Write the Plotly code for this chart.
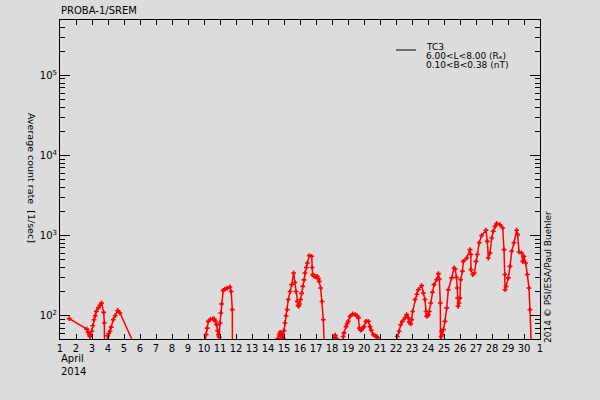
import plotly.graph_objects as go

# ---- data (day of April 2014, average count rate [1/sec]) ----
days = [1.58, 2.67, 2.75, 2.83, 2.87, 2.92, 2.98, 3.05, 3.125, 3.2, 3.27, 3.4, 3.5, 3.6, 3.73, 3.77, 3.79,
        3.95, 3.98, 4.05, 4.125, 4.2, 4.33, 4.45, 4.6, 4.75, 5.65,
        9.95, 10.05, 10.125, 10.2, 10.27, 10.4, 10.55, 10.64, 10.72, 10.79, 10.85, 10.9, 10.95,
        11.0, 11.05, 11.1, 11.2, 11.31, 11.45, 11.625, 11.7, 11.77, 11.78,
        14.55, 14.62, 14.7, 14.75, 14.8, 14.85, 14.9, 14.95, 15.0, 15.06, 15.13, 15.2, 15.27, 15.38, 15.48,
        15.6, 15.68, 15.75, 15.83, 15.88, 15.92, 15.97, 16.04, 16.1, 16.17, 16.25, 16.31, 16.4, 16.46,
        16.58, 16.73, 16.76, 16.79, 16.85, 16.94, 17.0, 17.08, 17.15, 17.2, 17.29, 17.38, 17.46, 17.52,
        18.05, 18.15, 18.2, 18.28, 18.35, 18.6, 18.7, 18.75, 18.875, 18.95, 19.02, 19.125, 19.29, 19.45,
        19.58, 19.65, 19.71, 19.78, 19.85, 19.92, 20.0, 20.125, 20.27, 20.375, 20.45, 20.58, 20.7, 20.79,
        20.85, 20.95,
        22.0, 22.08, 22.2, 22.29, 22.4, 22.56, 22.67, 22.77, 22.83, 22.92, 22.98, 23.04, 23.19, 23.3, 23.4,
        23.6, 23.71, 23.81, 23.875, 23.92, 23.97, 24.02, 24.08, 24.17, 24.27, 24.375, 24.54, 24.65, 24.71,
        24.77, 24.79, 24.83, 24.85, 24.9, 24.96, 25.06, 25.17, 25.27, 25.48, 25.625, 25.7, 25.78, 25.83,
        25.85, 25.88, 25.94, 26.0, 26.04, 26.15, 26.21, 26.42, 26.625, 26.67, 26.69, 26.79, 26.9, 27.0,
        27.08, 27.2, 27.35, 27.625, 27.71, 27.77, 27.875, 27.98, 28.08, 28.19, 28.29, 28.5, 28.67, 28.75,
        28.8, 28.82, 28.875, 29.02, 29.125, 29.23, 29.375, 29.54, 29.6, 29.69, 29.85, 29.92, 30.0, 30.1,
        30.21, 30.31, 30.375, 30.48]
rates = [92, 68, 62, 58, 55, 57, 64, 75, 89, 100, 113, 125, 135, 144, 110, 81, 30,
         45, 56, 60, 64, 72, 89, 100, 116, 108, 43,
         30, 50, 58, 70, 85, 90, 91, 91, 85, 77, 65, 58, 54,
         81, 108, 140, 207, 215, 220, 228, 200, 119, 20,
         20, 52, 58, 62, 55, 60, 56, 52, 65, 81, 100, 119, 159, 200, 244,
         341, 260, 200, 151, 135, 131, 140, 159, 190, 232, 280, 341, 400, 455,
         562, 551, 400, 326, 315, 310, 305, 310, 290, 268, 222, 150, 89, 40,
         40, 54, 57, 52, 35, 40, 55, 61, 73, 80, 85, 98, 105, 103,
         100, 94, 70, 66, 67, 70, 73, 85, 85, 73, 66, 58, 56, 55,
         53, 40,
         40, 55, 64, 77, 85, 94, 103, 94, 83, 79, 89, 113, 159, 185, 211,
         237, 192, 159, 113, 98, 100, 103, 113, 144, 196, 244, 282, 335, 287,
         144, 30, 55, 64, 58, 67, 85, 125, 211, 296, 394, 380, 300, 222,
         166, 131, 144, 166, 282, 358, 476, 525, 668, 579, 376, 326, 341, 476,
         579, 812, 1000, 1165, 847, 525, 606, 934, 1132, 1302, 1413, 1366, 1245, 668,
         326, 211, 232, 296, 413, 636, 812, 1165, 1028, 624, 606, 476, 551, 455,
         326, 222, 119, 30]

x_tickvals = list(range(1, 32))
x_ticktext = [str(d) for d in range(1, 31)] + ["1"]
y_tickvals = [100, 1000, 10000, 100000]
y_ticktext = ["10<sup>2</sup>", "10<sup>3</sup>", "10<sup>4</sup>", "10<sup>5</sup>"]
y_minor = [k * 10 ** n for n in range(1, 6) for k in range(2, 10)]
legend_lines = ["TC3", "6.00&lt;L&lt;8.00 (Rₑ)", "0.10&lt;B&lt;0.38 (nT)"]

FONT = "DejaVu Sans"
BG = "#dcdcdc"
W, H = 600, 400
ML, MR, MT, MB = 60, 60, 20, 61
PW, PH = W - ML - MR, H - MT - MB


def px(x):
    return (x - ML) / PW


def py(y):
    return (H - MB - y) / PH


fig = go.Figure()
fig.add_trace(go.Scatter(
    x=days, y=rates, mode="lines+markers",
    line=dict(color="#ff0000", width=1.5),
    marker=dict(symbol="cross", size=4, color="#ff0000", line=dict(width=0)),
    showlegend=False, hoverinfo="skip"))

fig.update_layout(
    width=W, height=H,
    margin=dict(l=ML, r=MR, t=MT, b=MB, pad=0),
    paper_bgcolor=BG, plot_bgcolor=BG,
    font=dict(family=FONT, size=10, color="black"),
    showlegend=False,
)
fig.update_xaxes(
    range=[1, 31], tickvals=x_tickvals, ticktext=x_ticktext,
    ticks="inside", ticklen=5, tickcolor="black", tickwidth=1,
    showline=True, linecolor="black", linewidth=1, mirror="ticks",
    showgrid=False, zeroline=False, tickfont=dict(size=10, family=FONT),
)
fig.update_yaxes(
    type="log", range=[1.709, 5.69], tickvals=y_tickvals, ticktext=y_ticktext,
    ticks="inside", ticklen=10, tickcolor="black", tickwidth=1,
    showline=True, linecolor="black", linewidth=1, mirror="ticks",
    showgrid=False, zeroline=False, tickfont=dict(size=10, family=FONT),
    minor=dict(tickvals=y_minor, ticks="inside", ticklen=5, tickcolor="black", showgrid=False),
)

ann = [
    dict(text="PROBA-1/SREM", x=60, y=11, size=10),
    dict(text="April", x=60, y=359, size=10),
    dict(text="2014", x=60, y=371, size=10),
]
for t, yy in zip(legend_lines, [47.5, 56.5, 65]):
    ann.append(dict(text=t, x=425, y=yy, size=9))
for a in ann:
    fig.add_annotation(text=a["text"], xref="paper", yref="paper",
                       x=px(a["x"]), y=py(a["y"]),
                       xanchor="left", yanchor="middle",
                       showarrow=False, borderpad=0,
                       font=dict(size=a["size"], family=FONT, color="black"))

fig.add_annotation(text="Average count rate  [1/sec]", xref="paper", yref="paper",
                   x=px(32), y=py(178), textangle=90, showarrow=False, borderpad=0,
                   xanchor="center", yanchor="middle", font=dict(size=9.5, family=FONT))
fig.add_annotation(text="2014 © PSI/ESA/Paul Buehler", xref="paper", yref="paper",
                   x=px(548), y=py(277), textangle=-90, showarrow=False, borderpad=0,
                   xanchor="center", yanchor="middle", font=dict(size=9, family=FONT))

fig.add_shape(type="line", xref="paper", yref="paper",
              x0=px(396), x1=px(416), y0=py(50), y1=py(50),
              line=dict(color="black", width=1))

fig.write_html("out.html", config={"displayModeBar": False},
               post_script="document.body.style.margin='0px';")
